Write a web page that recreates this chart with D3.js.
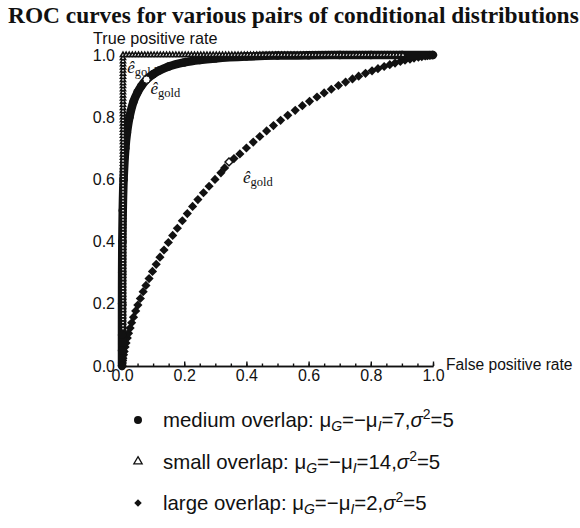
<!DOCTYPE html>
<html>
<head>
<meta charset="utf-8">
<script src="https://cdn.jsdelivr.net/npm/d3@7"></script>
<style>
	body { margin: 0; background: #fff; }
	text { font-family: "Liberation Sans", Arial, sans-serif; fill: #111; }
</style>
</head>
<body>
<svg id="chart" width="580" height="528"></svg>
<script>
const titleText = 'ROC curves for various pairs of conditional distributions';
const xLabel = 'False positive rate';
const yLabel = 'True positive rate';
const majorTicks = [0, 0.2, 0.4, 0.6, 0.8, 1.0];
const minorTicks = [0, 0.05, 0.1, 0.15, 0.2, 0.25, 0.3, 0.35, 0.4, 0.45, 0.5,
	0.55, 0.6, 0.65, 0.7, 0.75, 0.8, 0.85, 0.9, 0.95, 1.0];

// large overlap: mu_G = -mu_I = 2
const largeFpr = [0, 0.001, 0.002, 0.003, 0.005, 0.007, 0.01, 0.013, 0.017, 0.021, 0.026,
	0.031, 0.037, 0.044, 0.051, 0.059, 0.068, 0.077, 0.087, 0.098, 0.11, 0.122, 0.135,
	0.149, 0.163, 0.178, 0.194, 0.21, 0.227, 0.244, 0.262, 0.28, 0.299, 0.318, 0.33,
	0.344, 0.36, 0.379, 0.4, 0.422, 0.443, 0.465, 0.487, 0.51, 0.533, 0.557, 0.58, 0.603,
	0.627, 0.65, 0.673, 0.696, 0.719, 0.741, 0.761, 0.783, 0.804, 0.823, 0.843, 0.861,
	0.878, 0.895, 0.91, 0.926, 0.939, 0.953, 0.964, 0.975, 0.982, 0.99, 1.0];
const largeTpr = [0, 0.010, 0.018, 0.025, 0.036, 0.047, 0.061, 0.074, 0.090, 0.105, 0.122,
	0.139, 0.157, 0.177, 0.196, 0.217, 0.239, 0.259, 0.281, 0.304, 0.327, 0.35, 0.373,
	0.397, 0.42, 0.443, 0.467, 0.49, 0.513, 0.535, 0.557, 0.578, 0.6, 0.621, 0.637,
	0.656, 0.667, 0.682, 0.701, 0.72, 0.738, 0.756, 0.773, 0.79, 0.806, 0.822, 0.837, 0.851,
	0.865, 0.878, 0.89, 0.902, 0.913, 0.923, 0.932, 0.941, 0.949, 0.956, 0.963, 0.969,
	0.974, 0.979, 0.983, 0.987, 0.99, 0.993, 0.995, 0.997, 0.998, 0.999, 1.0];

// medium overlap: mu_G = -mu_I = 7
const mediumFpr = [0, 0, 0, 0.0001, 0.0004, 0.001, 0.0024, 0.0051, 0.0108, 0.016, 0.024,
	0.037, 0.05, 0.062, 0.079, 0.1, 0.12, 0.15, 0.2, 0.25, 0.3, 0.4, 0.5, 0.6, 0.7, 0.8,
	0.9, 1.0];
const mediumTpr = [0, 0.05, 0.1, 0.2, 0.3, 0.4, 0.5, 0.6, 0.7, 0.75, 0.8,
	0.85, 0.88, 0.9, 0.921, 0.938, 0.95, 0.963, 0.976, 0.984, 0.989, 0.995, 0.998, 0.999,
	1.0, 1.0, 1.0, 1.0];

// small overlap: mu_G = -mu_I = 14 (hugs the left and top edges)
const smallEdgeTpr = [0.12, 0.13, 0.14, 0.15, 0.16, 0.17, 0.18, 0.19, 0.2, 0.21, 0.22, 0.23,
	0.24, 0.25, 0.26, 0.27, 0.28, 0.29, 0.3, 0.31, 0.32, 0.33, 0.34, 0.35, 0.36, 0.37, 0.38,
	0.39, 0.4, 0.41, 0.42, 0.43, 0.44, 0.45, 0.46, 0.47, 0.48, 0.49, 0.5, 0.51, 0.52, 0.53,
	0.54, 0.55, 0.56, 0.57, 0.58, 0.59, 0.6, 0.61, 0.62, 0.63, 0.64, 0.65, 0.66, 0.67, 0.68,
	0.69, 0.7, 0.71, 0.72, 0.73, 0.74, 0.75, 0.76, 0.77, 0.78, 0.79, 0.8, 0.81, 0.82, 0.83,
	0.84, 0.85, 0.86, 0.87, 0.88, 0.89, 0.9, 0.91, 0.92, 0.93, 0.94, 0.95, 0.96, 0.97, 0.98,
	0.99];
const smallEdgeFpr = [0.01, 0.02, 0.03, 0.04, 0.05, 0.06, 0.07, 0.08, 0.09, 0.1, 0.11, 0.12,
	0.13, 0.14, 0.15, 0.16, 0.17, 0.18, 0.19, 0.2, 0.21, 0.22, 0.23, 0.24, 0.25, 0.26, 0.27,
	0.28, 0.29, 0.3, 0.31, 0.32, 0.33, 0.34, 0.35, 0.36, 0.37, 0.38, 0.39, 0.4, 0.41, 0.42,
	0.43, 0.44, 0.45, 0.46, 0.47, 0.48, 0.49, 0.5, 0.51, 0.52, 0.53, 0.54, 0.55, 0.56, 0.57,
	0.58, 0.59, 0.6, 0.61, 0.62, 0.63, 0.64, 0.65, 0.66, 0.67, 0.68, 0.69, 0.7, 0.71, 0.72,
	0.73, 0.74, 0.75, 0.76, 0.77, 0.78, 0.79, 0.8, 0.81, 0.82, 0.83, 0.84, 0.85, 0.86, 0.87,
	0.88, 0.89, 0.9];

// e_gold operating points: small, medium, large
const egoldFpr = [0.004, 0.079, 0.344];
const egoldTpr = [0.996, 0.921, 0.656];

const legendNames = ['medium overlap', 'small overlap', 'large overlap'];
const legendMu = ['7', '14', '2'];
const legendSigma2 = ['5', '5', '5'];

const svg = d3.select('#chart');
const x = d3.scaleLinear().domain([0, 1]).range([122, 433]);
const y = d3.scaleLinear().domain([0, 1]).range([366, 55]);

const zip = (a, b) => a.map((v, i) => [v, b[i]]);
const largePts = zip(largeFpr, largeTpr);
const mediumPts = zip(mediumFpr, mediumTpr);
const smallPts = smallEdgeTpr.map(t => [0, t]).concat([[0, 1]], smallEdgeFpr.map(f => [f, 1]));

// title
svg.append('text')
	.attr('x', 8).attr('y', 23)
	.style('font-family', '"Liberation Serif", "Times New Roman", serif')
	.style('font-weight', 'bold')
	.style('font-size', '23.4px')
	.text(titleText);

// axes: minor ticks every 0.05, labelled ones every 0.2, all pointing inward
const xMinor = d3.axisBottom(x).tickValues(minorTicks).tickSizeInner(-2.5).tickSizeOuter(0).tickFormat('');
const xMajor = d3.axisBottom(x).tickValues(majorTicks).tickSizeInner(-4.5).tickSizeOuter(0)
	.tickPadding(4).tickFormat(d3.format('.1f'));
const yMinor = d3.axisLeft(y).tickValues(minorTicks).tickSizeInner(-2.5).tickSizeOuter(0).tickFormat('');
const yMajor = d3.axisLeft(y).tickValues(majorTicks).tickSizeInner(-4.5).tickSizeOuter(0)
	.tickPadding(7).tickFormat(d3.format('.1f'));

const axes = svg.append('g');
axes.append('g').attr('transform', `translate(0,${y(0)})`).call(xMinor);
axes.append('g').attr('transform', `translate(0,${y(0)})`).call(xMajor);
axes.append('g').attr('transform', `translate(${x(0)},0)`).call(yMinor);
axes.append('g').attr('transform', `translate(${x(0)},0)`).call(yMajor);
axes.selectAll('.domain, .tick line').attr('stroke', '#111').attr('stroke-width', 1.4);
axes.selectAll('.tick text').style('font-size', '16px').attr('fill', '#111');

svg.append('text').attr('x', 93).attr('y', 44).style('font-size', '16.2px').text(yLabel);
svg.append('text').attr('x', 446).attr('y', 370).style('font-size', '15.6px').text(xLabel);

// e_gold labels (small one sits under the medium curve)
const egoldLabel = (g, px, py) => {
	const t = g.append('text').attr('x', px).attr('y', py)
		.style('font-family', '"Liberation Serif", "Times New Roman", serif');
	t.append('tspan').style('font-style', 'italic').style('font-size', '17px').text('ê');
	t.append('tspan').attr('dy', 3).style('font-size', '12.5px').text('gold');
};
const labelOffsets = [[4, 17], [4, 14], [14, 21]];
const labels = svg.append('g');
egoldLabel(labels, x(egoldFpr[0]) + labelOffsets[0][0], y(egoldTpr[0]) + labelOffsets[0][1]);

// large overlap diamonds
const diamond = d3.symbol(d3.symbolSquare, 42);
svg.append('g').selectAll('path').data(largePts).join('path')
	.attr('d', diamond)
	.attr('transform', d => `translate(${x(d[0])},${y(d[1])}) rotate(45)`)
	.attr('fill', '#111');

// medium overlap: dense circles forming a thick band
svg.append('path').datum(mediumPts)
	.attr('d', d3.line().x(d => x(d[0])).y(d => y(d[1])).curve(d3.curveCatmullRom))
	.attr('fill', 'none').attr('stroke', '#111').attr('stroke-width', 8.5);
svg.append('g').selectAll('circle').data(mediumPts).join('circle')
	.attr('cx', d => x(d[0])).attr('cy', d => y(d[1])).attr('r', 4.2)
	.attr('fill', '#111');

// small overlap triangles
const tri = d3.symbol(d3.symbolTriangle, 11);
svg.append('g').selectAll('path').data(smallPts).join('path')
	.attr('d', tri)
	.attr('transform', d => `translate(${x(d[0]) + 1},${y(d[1])})`)
	.attr('fill', '#fff').attr('stroke', '#111').attr('stroke-width', 1.6);

// e_gold markers
const egold = svg.append('g');
egold.append('circle').attr('cx', x(egoldFpr[1])).attr('cy', y(egoldTpr[1])).attr('r', 3.6)
	.attr('fill', '#fff').attr('stroke', '#111').attr('stroke-width', 1);
egold.append('path').attr('d', d3.symbol(d3.symbolSquare, 30))
	.attr('transform', `translate(${x(egoldFpr[2])},${y(egoldTpr[2])}) rotate(45)`)
	.attr('fill', '#fff').attr('stroke', '#111').attr('stroke-width', 1.4);
egoldLabel(labels, x(egoldFpr[1]) + labelOffsets[1][0], y(egoldTpr[1]) + labelOffsets[1][1]);
egoldLabel(labels, x(egoldFpr[2]) + labelOffsets[2][0], y(egoldTpr[2]) + labelOffsets[2][1]);
labels.raise();

// legend
const legendY = d3.scalePoint().domain(legendNames).range([420, 503]);
const legend = svg.append('g');
const symbols = [d3.symbol(d3.symbolCircle, 50), d3.symbol(d3.symbolTriangle, 30), d3.symbol(d3.symbolSquare, 28)];
legendNames.forEach((name, i) => {
	const ly = legendY(name);
	legend.append('path').attr('d', symbols[i])
		.attr('transform', `translate(138,${ly})${i === 2 ? ' rotate(45)' : ''}`)
		.attr('fill', i === 1 ? '#fff' : '#111')
		.attr('stroke', '#111').attr('stroke-width', i === 1 ? 1.3 : 0);
	const t = legend.append('text').attr('x', 163).attr('y', ly + 7).style('font-size', '20.4px');
	t.append('tspan').text(`${name}: μ`);
	t.append('tspan').attr('dy', 4).style('font-size', '14px').style('font-style', 'italic').text('G');
	t.append('tspan').attr('dy', -4).text('=−μ');
	t.append('tspan').attr('dy', 4).style('font-size', '14px').style('font-style', 'italic').text('I');
	t.append('tspan').attr('dy', -4).text(`=${legendMu[i]},`);
	t.append('tspan').style('font-style', 'italic').text('σ');
	t.append('tspan').attr('dy', -8).style('font-size', '14px').text('2');
	t.append('tspan').attr('dy', 8).text(`=${legendSigma2[i]}`);
});
</script>
</body>
</html>
